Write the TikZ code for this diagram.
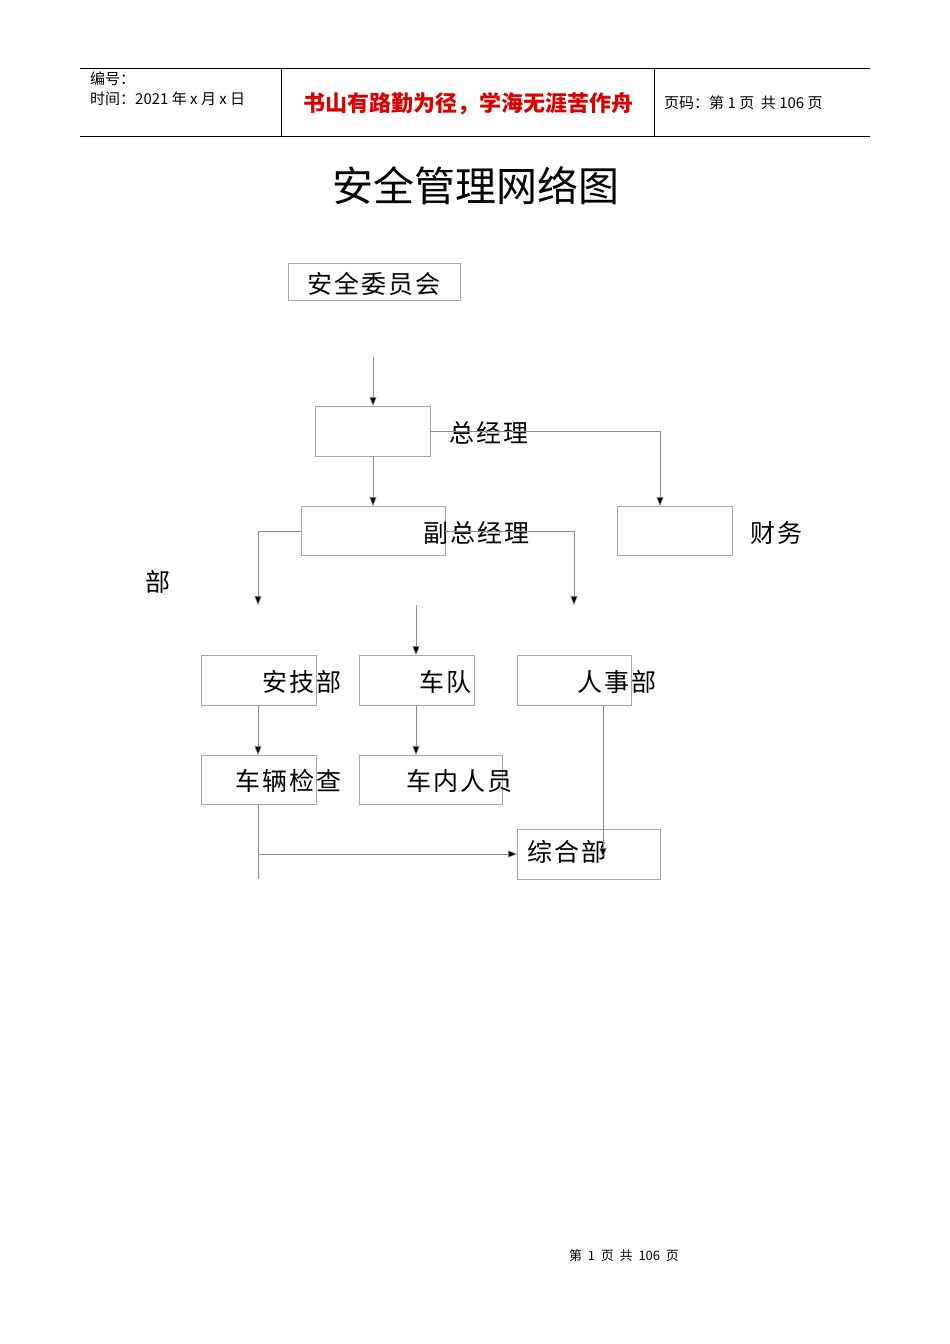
\documentclass[tikz,border=0pt]{standalone}
\usepackage{fontspec}
\setmainfont{Liberation Sans}
\newfontfamily\cjk[LetterSpace=8]{Noto Sans CJK SC}
\newfontfamily\cjkn{Noto Sans CJK SC}
\usetikzlibrary{arrows.meta}
\begin{document}
\begin{tikzpicture}[x=1pt,y=-1pt,
  bx/.style={draw=black!35,line width=0.5pt},
  lbl/.style={font=\cjk\fontsize{25}{25}\selectfont,inner sep=0},
  ln/.style={draw=black!45,line width=0.5pt},
  ar/.style={ln,-{Triangle[width=7pt,length=9pt,fill=black]}}]
\useasboundingbox (0,0) rectangle (950,1344);
% header
\draw[line width=0.6pt] (80,68) -- (870,68) (80,136) -- (870,136) (281,68) -- (281,136) (654,68) -- (654,136);
\node[anchor=west,inner sep=0,font=\cjkn\fontsize{15}{15}\selectfont] (h1) at (90,79) {编号：};
\node[anchor=west,inner sep=0,font=\cjkn\fontsize{15}{15}\selectfont] (h2) at (90,99) {时间：2021 年 x 月 x 日};
\node[inner sep=0,text=red!85!black,font=\cjkn\bfseries\fontsize{22}{22}\selectfont] (h3) at (468,104) {书山有路勤为径，学海无涯苦作舟};
\node[anchor=west,inner sep=0,font=\cjkn\fontsize{15}{15}\selectfont] (h4) at (664,103) {页码：第 1 页\ \ 共 106 页};
\node[inner sep=0,font=\cjkn\fontsize{41}{41}\selectfont] (title) at (476,186) {安全管理网络图};
% boxes
\draw[bx] (288,263) rectangle (460,300);
\node[lbl] (wyh) at (374,284) {安全委员会};
\draw[bx] (315,406) rectangle (430,456);
\node[lbl] (zjl) at (489,433) {总经理};
\draw[bx] (301,506) rectangle (445,555);
\node[lbl] (fzjl) at (476,533) {副总经理};
\draw[bx] (617,506) rectangle (732,555);
\node[lbl] (cw) at (776,533) {财务};
\node[lbl] (bu) at (158,582) {部};
\draw[bx] (201,655) rectangle (316,705);
\node[lbl] (ajb) at (302,682) {安技部};
\draw[bx] (359,655) rectangle (474,705);
\node[lbl] (cd) at (445,682) {车队};
\draw[bx] (517,655) rectangle (631,705);
\node[lbl] (rsb) at (617,682) {人事部};
\draw[bx] (201,755) rectangle (316,804);
\node[lbl] (cljc) at (288,781) {车辆检查};
\draw[bx] (359,755) rectangle (502,804);
\node[lbl] (cnry) at (459,781) {车内人员};
\draw[bx] (517,829) rectangle (660,879);
\node[lbl] (zhb) at (567,852) {综合部};
% connector coordinates
\coordinate (a1) at (373,357); \coordinate (a2) at (373,406);
\coordinate (b1) at (430,431); \coordinate (b2) at (660,506);
\coordinate (c1) at (373,456); \coordinate (c2) at (373,506);
\coordinate (d1) at (301,531); \coordinate (d2) at (258,605);
\coordinate (e1) at (445,531); \coordinate (e2) at (574,605);
\coordinate (f1) at (416,605); \coordinate (f2) at (416,655);
\coordinate (g1) at (258,705); \coordinate (g2) at (258,755);
\coordinate (k1) at (416,705); \coordinate (k2) at (416,755);
\coordinate (m1) at (258,804); \coordinate (m2) at (258,879);
\coordinate (n1) at (258,854); \coordinate (n2) at (517,854);
\coordinate (p1) at (603,705); \coordinate (p2) at (603,857);
\draw[ar] (a1) -- (a2);
\draw[ar] (b1) -| (b2);
\draw[ar] (c1) -- (c2);
\draw[ar] (d1) -| (d2);
\draw[ar] (e1) -| (e2);
\draw[ar] (f1) -- (f2);
\draw[ar] (g1) -- (g2);
\draw[ar] (k1) -- (k2);
\draw[ln] (m1) -- (m2);
\draw[ar] (n1) -- (n2);
\draw[ar] (p1) -- (p2);
\node[inner sep=0,font=\cjkn\fontsize{13}{13}\selectfont] (foot) at (624,1256) {第\ \ 1\ \ 页\ \ 共\ \ 106\ \ 页};
\end{tikzpicture}
\end{document}
